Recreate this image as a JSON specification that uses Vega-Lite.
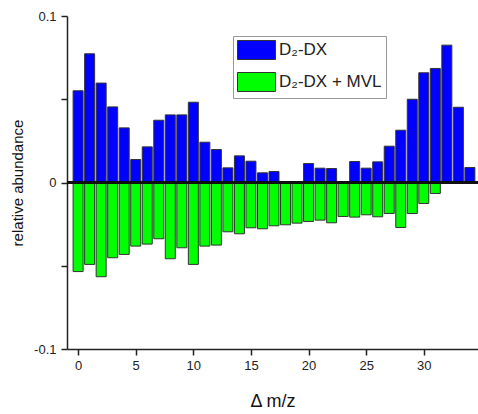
{
  "$schema": "https://vega.github.io/schema/vega-lite/v6.json",
  "width": 411,
  "height": 333,
  "autosize": "none",
  "padding": {"left": 67, "top": 16, "right": 0, "bottom": 65},
  "background": "white",
  "config": {
    "view": {"stroke": null},
    "font": "Liberation Sans",
    "axis": {"labelFont": "Liberation Sans", "titleFont": "Liberation Sans", "grid": false, "domainColor": "#222", "tickColor": "#222", "labelColor": "#222", "titleColor": "#111", "titleFontWeight": "normal"}
  },
  "data": {
    "values": [
      {"mz": 0, "series": "D₂-DX", "value": 0.0551},
      {"mz": 1, "series": "D₂-DX", "value": 0.0773},
      {"mz": 2, "series": "D₂-DX", "value": 0.0597},
      {"mz": 3, "series": "D₂-DX", "value": 0.0454},
      {"mz": 4, "series": "D₂-DX", "value": 0.0328},
      {"mz": 5, "series": "D₂-DX", "value": 0.0138},
      {"mz": 6, "series": "D₂-DX", "value": 0.0214},
      {"mz": 7, "series": "D₂-DX", "value": 0.0374},
      {"mz": 8, "series": "D₂-DX", "value": 0.0406},
      {"mz": 9, "series": "D₂-DX", "value": 0.0406},
      {"mz": 10, "series": "D₂-DX", "value": 0.0482},
      {"mz": 11, "series": "D₂-DX", "value": 0.0242},
      {"mz": 12, "series": "D₂-DX", "value": 0.0198},
      {"mz": 13, "series": "D₂-DX", "value": 0.0088},
      {"mz": 14, "series": "D₂-DX", "value": 0.016},
      {"mz": 15, "series": "D₂-DX", "value": 0.0128},
      {"mz": 16, "series": "D₂-DX", "value": 0.0058},
      {"mz": 17, "series": "D₂-DX", "value": 0.0066},
      {"mz": 18, "series": "D₂-DX", "value": 0},
      {"mz": 19, "series": "D₂-DX", "value": 0},
      {"mz": 20, "series": "D₂-DX", "value": 0.0114},
      {"mz": 21, "series": "D₂-DX", "value": 0.0086},
      {"mz": 22, "series": "D₂-DX", "value": 0.0084},
      {"mz": 23, "series": "D₂-DX", "value": 0},
      {"mz": 24, "series": "D₂-DX", "value": 0.0126},
      {"mz": 25, "series": "D₂-DX", "value": 0.0086},
      {"mz": 26, "series": "D₂-DX", "value": 0.0124},
      {"mz": 27, "series": "D₂-DX", "value": 0.0218},
      {"mz": 28, "series": "D₂-DX", "value": 0.0314},
      {"mz": 29, "series": "D₂-DX", "value": 0.05},
      {"mz": 30, "series": "D₂-DX", "value": 0.0659},
      {"mz": 31, "series": "D₂-DX", "value": 0.0685},
      {"mz": 32, "series": "D₂-DX", "value": 0.0825},
      {"mz": 33, "series": "D₂-DX", "value": 0.0452},
      {"mz": 34, "series": "D₂-DX", "value": 0.009},
      {"mz": 0, "series": "D₂-DX + MVL", "value": -0.0535},
      {"mz": 1, "series": "D₂-DX + MVL", "value": -0.0492},
      {"mz": 2, "series": "D₂-DX + MVL", "value": -0.0566},
      {"mz": 3, "series": "D₂-DX + MVL", "value": -0.0452},
      {"mz": 4, "series": "D₂-DX + MVL", "value": -0.0432},
      {"mz": 5, "series": "D₂-DX + MVL", "value": -0.0382},
      {"mz": 6, "series": "D₂-DX + MVL", "value": -0.037},
      {"mz": 7, "series": "D₂-DX + MVL", "value": -0.0338},
      {"mz": 8, "series": "D₂-DX + MVL", "value": -0.0458},
      {"mz": 9, "series": "D₂-DX + MVL", "value": -0.0392},
      {"mz": 10, "series": "D₂-DX + MVL", "value": -0.0492},
      {"mz": 11, "series": "D₂-DX + MVL", "value": -0.0382},
      {"mz": 12, "series": "D₂-DX + MVL", "value": -0.0376},
      {"mz": 13, "series": "D₂-DX + MVL", "value": -0.0296},
      {"mz": 14, "series": "D₂-DX + MVL", "value": -0.0308},
      {"mz": 15, "series": "D₂-DX + MVL", "value": -0.0272},
      {"mz": 16, "series": "D₂-DX + MVL", "value": -0.0278},
      {"mz": 17, "series": "D₂-DX + MVL", "value": -0.026},
      {"mz": 18, "series": "D₂-DX + MVL", "value": -0.0254},
      {"mz": 19, "series": "D₂-DX + MVL", "value": -0.0244},
      {"mz": 20, "series": "D₂-DX + MVL", "value": -0.0234},
      {"mz": 21, "series": "D₂-DX + MVL", "value": -0.0226},
      {"mz": 22, "series": "D₂-DX + MVL", "value": -0.0242},
      {"mz": 23, "series": "D₂-DX + MVL", "value": -0.0204},
      {"mz": 24, "series": "D₂-DX + MVL", "value": -0.0208},
      {"mz": 25, "series": "D₂-DX + MVL", "value": -0.0194},
      {"mz": 26, "series": "D₂-DX + MVL", "value": -0.0206},
      {"mz": 27, "series": "D₂-DX + MVL", "value": -0.0186},
      {"mz": 28, "series": "D₂-DX + MVL", "value": -0.027},
      {"mz": 29, "series": "D₂-DX + MVL", "value": -0.0186},
      {"mz": 30, "series": "D₂-DX + MVL", "value": -0.0126},
      {"mz": 31, "series": "D₂-DX + MVL", "value": -0.0066}
    ]
  },
  "layer": [
    {
      "transform": [{"filter": "datum.value != 0"}],
      "mark": {"type": "bar", "width": 10, "stroke": "#333", "strokeWidth": 1, "clip": true},
      "encoding": {
        "x": {
          "field": "mz", "type": "quantitative",
          "scale": {"domain": [-0.53, 34.27], "nice": false, "zero": false},
          "axis": {"values": [0, 5, 10, 15, 20, 25, 30], "title": "Δ m/z", "titleFontSize": 18, "titlePadding": 20, "labelFontSize": 13, "tickSize": 6, "labelPadding": 4, "domainWidth": 1.5, "tickWidth": 1.5, "labelFlush": false}
        },
        "y": {
          "field": "value", "type": "quantitative",
          "scale": {"domain": [-0.1, 0.1], "nice": false},
          "axis": {"values": [-0.1, -0.05, 0, 0.05, 0.1], "labelExpr": "datum.value == 0.1 ? '0.1' : datum.value == -0.1 ? '-0.1' : datum.value == 0 ? '0' : ''", "title": "relative abundance", "titleFontSize": 15, "titlePadding": 8, "labelFontSize": 13, "tickSize": 6, "labelPadding": 5, "domainWidth": 1.5, "tickWidth": 1.5}
        },
        "y2": {"datum": 0},
        "color": {
          "field": "series", "type": "nominal",
          "scale": {"domain": ["D₂-DX", "D₂-DX + MVL"], "range": ["#0000FF", "#00FF00"]},
          "legend": {
            "title": null, "orient": "none", "legendX": 166, "legendY": 20,
            "symbolType": "M-1,-1H3V1H-1Z", "symbolSize": 361, "symbolStrokeColor": "#333", "symbolStrokeWidth": 1, "symbolOpacity": 1,
            "labelFontSize": 17, "labelColor": "#222", "labelOffset": 22, "rowPadding": 8,
            "padding": 4, "strokeColor": "#999", "fillColor": "white", "cornerRadius": 0
          }
        }
      }
    },
    {
      "mark": {"type": "rule", "color": "#111", "strokeWidth": 1.5},
      "encoding": {"y": {"datum": 0}}
    }
  ]
}
